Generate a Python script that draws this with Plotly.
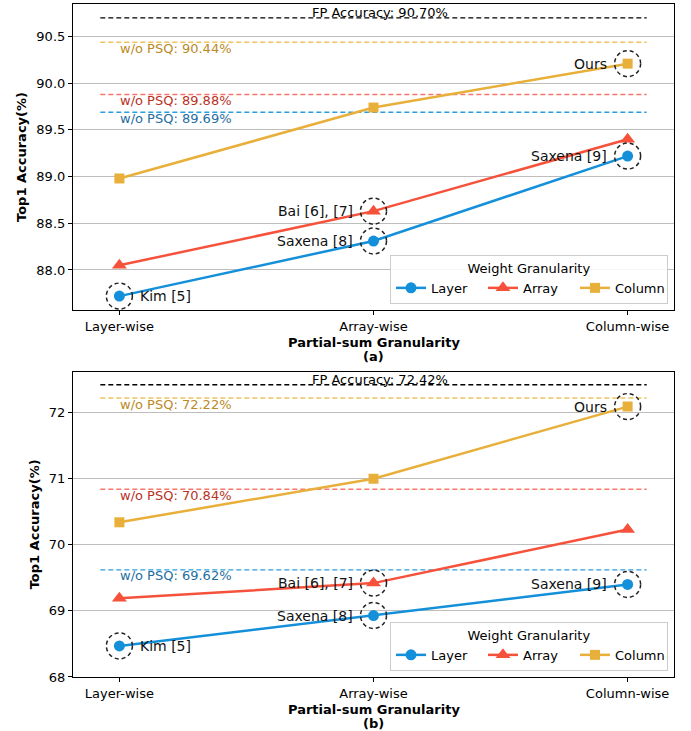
import plotly.graph_objects as go

# ---------------- data ----------------
categories = ["Layer-wise", "Array-wise", "Column-wise"]
series_names = ["Layer", "Array", "Column"]

a_layer = [87.72, 88.31, 89.22]
a_array = [88.05, 88.63, 89.40]
a_column = [88.98, 89.74, 90.21]
a_fp = 90.70
a_psq = [89.69, 89.88, 90.44]   # w/o PSQ for Layer, Array, Column

b_layer = [68.47, 68.93, 69.40]
b_array = [69.19, 69.42, 70.23]
b_column = [70.34, 71.00, 72.09]
b_fp = 72.42
b_psq = [69.62, 70.84, 72.22]

callout_series = ["Layer", "Layer", "Array", "Layer", "Column"]
callout_cat = [0, 1, 1, 2, 2]
callout_text = ["Kim [5]", "Saxena [8]", "Bai [6], [7]", "Saxena [9]", "Ours"]
callout_side = ["right", "left", "left", "left", "left"]

panel_tags = ["(a)", "(b)"]

# ---------------- style ----------------
FONT = "DejaVu Sans"
line_colors = {"Layer": "#1490da", "Array": "#f6523b", "Column": "#e8b03a"}
hline_colors = {"Layer": "#2a9ee2", "Array": "#f8766a", "Column": "#f0c25a"}
text_colors = {"Layer": "#1f6e9e", "Array": "#b83226", "Column": "#bb8a26"}
symbols = {"Layer": "circle", "Array": "triangle-up", "Column": "square"}
msizes = {"Layer": 11, "Array": 13, "Column": 10}
HL_EXT = (-0.075, 2.075)
xpad = 0.05 * (HL_EXT[1] - HL_EXT[0])
XRANGE = [HL_EXT[0] - xpad, HL_EXT[1] + xpad]

W, H = 691, 731
ML, MR, MT, MB = 73, 17, 4, 54
domains = [[0.5453, 1.0], [0.0, 0.4536]]

fig = go.Figure()

panels = [
    dict(vals={"Layer": a_layer, "Array": a_array, "Column": a_column}, fp=a_fp, psq=a_psq,
         ybottom=None, dtick=0.5, fmt=".1f"),
    dict(vals={"Layer": b_layer, "Array": b_array, "Column": b_column}, fp=b_fp, psq=b_psq,
         ybottom=68, dtick=1, fmt="d"),
]

annotations = []
shapes = []
xs = list(range(len(categories)))

for pi, p in enumerate(panels):
    xa = "x" if pi == 0 else "x2"
    ya = "y" if pi == 0 else "y2"
    leg = "legend" if pi == 0 else "legend2"
    allv = [v for s in series_names for v in p["vals"][s]] + [p["fp"]] + p["psq"]
    lo, hi = min(allv), max(allv)
    pad = 0.05 * (hi - lo)
    yr = [lo - pad if p["ybottom"] is None else p["ybottom"], hi + pad]

    # horizontal reference lines
    fig.add_trace(go.Scatter(x=list(HL_EXT), y=[p["fp"], p["fp"]], mode="lines",
                             line=dict(color="black", width=1.4, dash="5px,3px"),
                             xaxis=xa, yaxis=ya, showlegend=False, hoverinfo="skip"))
    annotations.append(dict(x=1, y=p["fp"], xref=xa, yref=ya, text=f"FP Accuracy: {p['fp']:.2f}%",
                            showarrow=False, xanchor="center", yanchor="bottom", xshift=6, yshift=-4,
                            font=dict(family=FONT, size=13, color="black")))
    for si, s in enumerate(series_names):
        v = p["psq"][si]
        fig.add_trace(go.Scatter(x=list(HL_EXT), y=[v, v], mode="lines",
                                 line=dict(color=hline_colors[s], width=1.4, dash="5px,3px"),
                                 xaxis=xa, yaxis=ya, showlegend=False, hoverinfo="skip"))
        annotations.append(dict(x=0, y=v, xref=xa, yref=ya, text=f"w/o PSQ: {v:.2f}%",
                                showarrow=False, xanchor="left", yanchor="middle", yshift=-6, xshift=-1,
                                font=dict(family=FONT, size=13, color=text_colors[s])))

    # main series
    for s in series_names:
        fig.add_trace(go.Scatter(x=xs, y=p["vals"][s], mode="lines+markers", name=s,
                                 line=dict(color=line_colors[s], width=2.5),
                                 marker=dict(symbol=symbols[s], size=msizes[s], color=line_colors[s]),
                                 xaxis=xa, yaxis=ya, legend=leg))

    # callouts
    for s, ci, t, side in zip(callout_series, callout_cat, callout_text, callout_side):
        yv = p["vals"][s][ci]
        shapes.append(dict(type="circle", xref=xa, yref=ya, xsizemode="pixel", ysizemode="pixel",
                           xanchor=ci, yanchor=yv, x0=-13, x1=13, y0=-13, y1=13,
                           line=dict(color="#222222", width=1.5, dash="4px,3px")))
        annotations.append(dict(x=ci, y=yv, xref=xa, yref=ya, text=t, showarrow=False,
                                xanchor="left" if side == "right" else "right", yanchor="middle",
                                xshift=19 if side == "right" else -19,
                                font=dict(family=FONT, size=14, color="#111111")))

    # x title + panel tag
    xd = f"{xa} domain"
    yd = f"{ya} domain"
    annotations.append(dict(x=0.5, y=0, xref=xd, yref=yd, text="<b>Partial-sum Granularity</b>",
                            showarrow=False, xanchor="center", yanchor="middle", yshift=-32,
                            font=dict(family=FONT, size=13, color="black")))
    annotations.append(dict(x=0.5, y=0, xref=xd, yref=yd, text=f"<b>{panel_tags[pi]}</b>",
                            showarrow=False, xanchor="center", yanchor="middle", yshift=-46,
                            font=dict(family=FONT, size=13, color="black")))

    axis_common = dict(showline=True, mirror=True, linecolor="black", linewidth=1.2,
                       ticks="outside", ticklen=4, tickcolor="black", automargin=False,
                       tickfont=dict(family=FONT, size=13, color="black"), zeroline=False)
    xaxis = dict(axis_common, range=XRANGE, tickvals=xs, ticktext=categories, showgrid=False,
                 anchor=ya)
    yaxis = dict(axis_common, range=yr, dtick=p["dtick"], tickformat=p["fmt"], showgrid=True,
                 gridcolor="#bdbdbd", gridwidth=1, domain=domains[pi], anchor=xa,
                 title=dict(text="<b>Top1 Accuracy(%)</b>", standoff=6,
                            font=dict(family=FONT, size=13, color="black")))
    if pi == 0:
        fig.update_layout(xaxis=xaxis, yaxis=yaxis)
    else:
        fig.update_layout(xaxis2=xaxis, yaxis2=yaxis)

legend_common = dict(orientation="h", xanchor="right", yanchor="bottom", x=0.99,
                     bgcolor="rgba(255,255,255,0.85)", bordercolor="#cccccc", borderwidth=1,
                     font=dict(family=FONT, size=13, color="black"),
                     title=dict(text="Weight Granularity", side="top center",
                                font=dict(family=FONT, size=13, color="black")),
                     itemwidth=30, entrywidth=47, tracegroupgap=0)
fig.update_layout(
    width=W, height=H,
    margin=dict(l=ML, r=MR, t=MT, b=MB),
    paper_bgcolor="white", plot_bgcolor="white",
    font=dict(family=FONT, size=13, color="black"),
    legend=dict(legend_common, y=0.5542),
    legend2=dict(legend_common, y=0.0089),
    annotations=annotations, shapes=shapes,
)

fig.write_html("out.html", config={"displayModeBar": False},
               post_script="document.body.style.margin='0';document.body.style.overflow='hidden';")
